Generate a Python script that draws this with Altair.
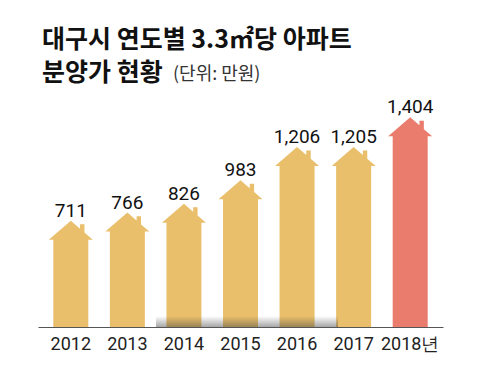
import altair as alt
import pandas as pd

years = ["2012", "2013", "2014", "2015", "2016", "2017", "2018년"]
prices = [711, 766, 826, 983, 1206, 1205, 1404]
price_labels = ["711", "766", "826", "983", "1,206", "1,205", "1,404"]
title_line1 = ["대구시 연도별 3.3㎡당 아파트"]
title_line2 = ["분양가 현황"]
unit_text = ["(단위: 만원)"]

df = pd.DataFrame({"year": years, "price": prices, "label": price_labels})

GOLD = "#E9BF6C"
CORAL = "#E97C6C"
NUM_FONT = "Roboto"
KR_FONT = "Noto Sans CJK KR"

# house roof (peak at origin, eaves below), with chimney on the right
ROOF = "M0,0 L0.42,0.363 L0.42,0.16 L0.62,0.16 L0.62,0.536 L1,0.864 L-1,0.864 Z"

x = alt.X(
    "year:N",
    sort=years,
    scale=alt.Scale(paddingInner=0, paddingOuter=0.08),
    axis=alt.Axis(
        title=None, labelAngle=0, ticks=False, domainColor="#555", domainWidth=1.2,
        labelFont=NUM_FONT, labelFontSize=18, labelColor="#222", labelPadding=8,
    ),
)
y = alt.Y("price:Q", scale=alt.Scale(domain=[0, 1500]), axis=None, stack=None)
color = alt.condition(alt.datum.year == "2018년", alt.value(CORAL), alt.value(GOLD))

base = alt.Chart(df)
body = base.mark_bar(size=35, yOffset=18).encode(x=x, y=y, y2=alt.Y2(datum=0), color=color)
roof = base.mark_point(shape=ROOF, size=1936, filled=True, opacity=1, strokeWidth=0).encode(
    x=x, y=y, color=color
)
labels = base.mark_text(
    baseline="alphabetic", dy=-4, font=NUM_FONT, fontSize=19, color="#111"
).encode(x=x, y=y, text="label:N")

shadow = alt.Chart(pd.DataFrame({"s": [0]})).mark_rect(
    color={
        "gradient": "linear",
        "x1": 0, "y1": 0, "x2": 0, "y2": 1,
        "stops": [
            {"offset": 0, "color": "rgba(60,60,60,0)"},
            {"offset": 1, "color": "rgba(60,60,60,0.45)"},
        ],
    },
).encode(x=alt.value(118), x2=alt.value(300), y=alt.value(213), y2=alt.value(224))

t1 = alt.Chart(pd.DataFrame({"t": title_line1})).mark_text(
    align="left", baseline="alphabetic", font=KR_FONT, fontWeight="bold", fontSize=25, color="#111"
).encode(text="t:N", x=alt.value(4), y=alt.value(-55))
t2 = alt.Chart(pd.DataFrame({"t": title_line2})).mark_text(
    align="left", baseline="alphabetic", font=KR_FONT, fontWeight="bold", fontSize=25, color="#111"
).encode(text="t:N", x=alt.value(4), y=alt.value(-22))
t3 = alt.Chart(pd.DataFrame({"t": unit_text})).mark_text(
    align="left", baseline="alphabetic", font=KR_FONT, fontSize=18, color="#333"
).encode(text="t:N", x=alt.value(135), y=alt.value(-23))

chart = (
    alt.layer(body, roof, shadow, labels, t1, t2, t3)
    .properties(
        width=405,
        height=224,
        autosize=alt.AutoSizeParams(type="none"),
        padding={"left": 30, "top": 95, "right": 27, "bottom": 50},
        background="white",
    )
    .configure_view(stroke=None)
)

chart.save("out.html", embed_options={"renderer": "svg", "actions": False})
